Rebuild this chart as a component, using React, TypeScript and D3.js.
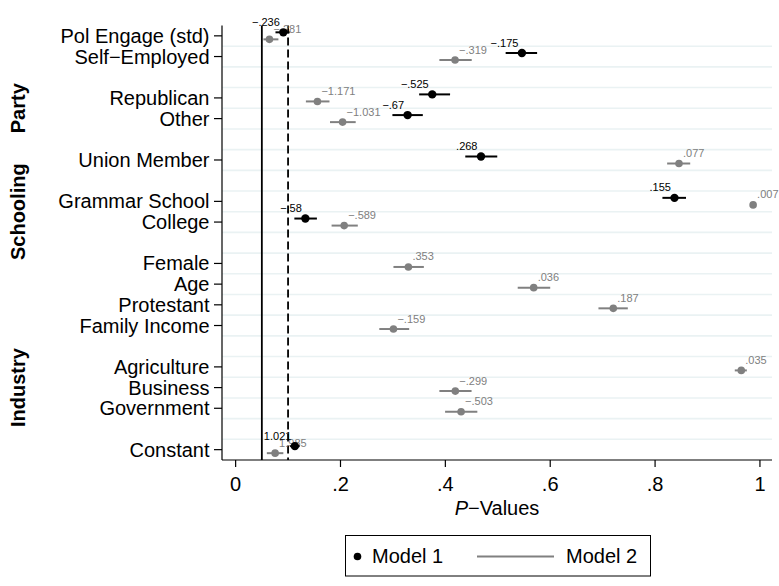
import React from "react";
import * as d3 from "d3";

// Row layout of the coefficient plot ("" marks a spacer row between blocks)
const rows: string[] = [
  "Pol Engage (std)", "Self−Employed", "",
  "Republican", "Other", "",
  "Union Member", "",
  "Grammar School", "College", "",
  "Female", "Age", "Protestant", "Family Income", "",
  "Agriculture", "Business", "Government", "",
  "Constant",
];

// Block headings drawn vertically at the left, spanning their first..last row
const groupNames = ["Party", "Schooling", "Industry"];
const groupFirst = ["Republican", "Grammar School", "Agriculture"];
const groupLast = ["Other", "College", "Government"];

// Model 1: p-value, interval, coefficient
const m1Vars = ["Pol Engage (std)", "Self−Employed", "Republican", "Other", "Union Member", "Grammar School", "College", "Constant"];
const m1P = [0.091, 0.546, 0.375, 0.328, 0.468, 0.837, 0.133, 0.113];
const m1Lo = [0.076, 0.515, 0.350, 0.299, 0.438, 0.814, 0.112, 0.104];
const m1Hi = [0.103, 0.575, 0.409, 0.357, 0.499, 0.859, 0.155, 0.122];
const m1Coef = [-0.236, -0.175, -0.525, -0.67, 0.268, 0.155, -0.58, 1.021];

// Model 2: p-value, interval, coefficient
const m2Vars = ["Pol Engage (std)", "Self−Employed", "Republican", "Other", "Union Member", "Grammar School", "College", "Female", "Age", "Protestant", "Family Income", "Agriculture", "Business", "Government", "Constant"];
const m2P = [0.0645, 0.4185, 0.156, 0.204, 0.8456, 0.987, 0.207, 0.3295, 0.5685, 0.7203, 0.301, 0.9644, 0.419, 0.430, 0.0753];
const m2Lo = [0.053, 0.3886, 0.134, 0.180, 0.823, 0.985, 0.183, 0.301, 0.538, 0.692, 0.274, 0.952, 0.3886, 0.3995, 0.0595];
const m2Hi = [0.0816, 0.4503, 0.179, 0.229, 0.867, 0.989, 0.233, 0.359, 0.600, 0.748, 0.331, 0.975, 0.450, 0.461, 0.091];
const m2Coef = [-0.281, -0.319, -1.171, -1.031, 0.077, 0.007, -0.589, 0.353, 0.036, 0.187, -0.159, 0.035, -0.299, -0.503, 1.985];

const xTicks = [0, 0.2, 0.4, 0.6, 0.8, 1];
const refLines = [0.05, 0.1];
const legendLabels = ["Model 1", "Model 2"];

const W = 779;
const H = 586;
const plot = { left: 222, right: 772, top: 25.5, bottom: 460 };
const FONT = "'Liberation Sans', Arial, Helvetica, sans-serif";
const GRAY = "#808080";

// Stata-style number: no leading zero, typographic minus
const fmtNum = (v: number) => {
  const s = String(Math.abs(v)).replace(/^0\./, ".");
  return (v < 0 ? "−" : "") + s;
};

export default function App() {
  const x = d3.scaleLinear().domain([-0.026, 1.023]).range([plot.left, plot.right]);
  const y = d3.scaleLinear().domain([-0.5, rows.length - 0.5]).range([plot.top, plot.bottom]);
  const rowIndex = (name: string) => rows.indexOf(name);
  const offset = 0.17;

  const series = [
    { vars: m2Vars, p: m2P, lo: m2Lo, hi: m2Hi, coef: m2Coef, color: GRAY, r: 3.8, dy: offset, black: false },
    { vars: m1Vars, p: m1P, lo: m1Lo, hi: m1Hi, coef: m1Coef, color: "#000", r: 4.2, dy: -offset, black: true },
  ];

  const legendY = 556.5;

  return (
    <svg width={W} height={H} style={{ position: "absolute", left: 0, top: 0, background: "#fff" }} fontFamily={FONT}>
      <rect x={0} y={0} width={W} height={H} fill="#fff" />

      {/* horizontal separators between rows */}
      {d3.range(rows.length - 1).map((i) => (
        <line key={"g" + i} x1={plot.left} x2={plot.right} y1={y(i + 0.5)} y2={y(i + 0.5)} stroke="#eaf2f3" strokeWidth={1.6} />
      ))}

      {/* significance reference lines */}
      {refLines.map((v, i) => (
        <line key={"r" + i} x1={x(v)} x2={x(v)} y1={plot.top} y2={plot.bottom} stroke="#000" strokeWidth={1.8}
          strokeDasharray={i === 0 ? undefined : "8,4"} />
      ))}

      {/* axes */}
      <line x1={plot.left} x2={plot.left} y1={plot.top} y2={plot.bottom} stroke="#000" strokeWidth={1.2} />
      <line x1={plot.left} x2={plot.right} y1={plot.bottom} y2={plot.bottom} stroke="#000" strokeWidth={1.2} />

      {rows.map((name, i) =>
        name ? (
          <g key={"yt" + i}>
            <line x1={plot.left - 8} x2={plot.left} y1={y(i)} y2={y(i)} stroke="#000" strokeWidth={1.2} />
            <text x={plot.left - 12.5} y={y(i)} dy="0.35em" textAnchor="end" fontSize={20}>{name}</text>
          </g>
        ) : null
      )}

      {groupNames.map((g, i) => {
        const cy = (y(rowIndex(groupFirst[i])) + y(rowIndex(groupLast[i]))) / 2;
        return (
          <text key={"grp" + i} transform={`translate(25,${cy}) rotate(-90)`} textAnchor="middle" fontSize={20} fontWeight="bold">{g}</text>
        );
      })}

      {xTicks.map((t) => (
        <g key={"xt" + t}>
          <line x1={x(t)} x2={x(t)} y1={plot.bottom} y2={plot.bottom + 7} stroke="#000" strokeWidth={1.2} />
          <text x={x(t)} y={491} textAnchor="middle" fontSize={20}>{fmtNum(t)}</text>
        </g>
      ))}
      <text x={(plot.left + plot.right) / 2} y={515} textAnchor="middle" fontSize={20}>
        <tspan fontStyle="italic">P</tspan>−Values
      </text>

      {/* point estimates with intervals */}
      {series.map((s, si) => (
        <g key={"s" + si}>
          {s.vars.map((v, j) => {
            const cy = y(rowIndex(v) + s.dy);
            const cx = x(s.p[j]);
            return (
              <g key={v}>
                <line x1={x(s.lo[j])} x2={x(s.hi[j])} y1={cy} y2={cy} stroke={s.color} strokeWidth={2} />
                <circle cx={cx} cy={cy} r={s.r} fill={s.color} />
                <text x={s.black ? cx - 3.5 : cx + 4} y={cy - 6.5} textAnchor={s.black ? "end" : "start"}
                  fontSize={11} fill={s.color}>{fmtNum(s.coef[j])}</text>
              </g>
            );
          })}
        </g>
      ))}

      {/* legend */}
      <rect x={345.5} y={535.5} width={305} height={40.5} fill="#fff" stroke="#000" strokeWidth={1} />
      <circle cx={357.5} cy={legendY} r={3.8} fill="#000" />
      <text x={372} y={563} fontSize={20}>{legendLabels[0]}</text>
      <line x1={477} x2={554} y1={legendY} y2={legendY} stroke={GRAY} strokeWidth={2} />
      <text x={566} y={563} fontSize={20}>{legendLabels[1]}</text>
    </svg>
  );
}
